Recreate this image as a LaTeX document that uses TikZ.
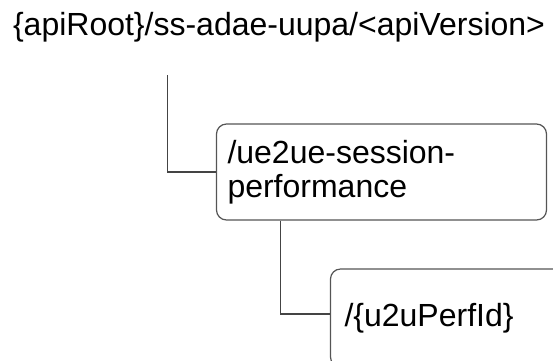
\documentclass[tikz,border=0pt]{standalone}
\usepackage{fontspec}
\setmainfont{Liberation Sans}
\definecolor{linec}{HTML}{444444}
\definecolor{boxc}{HTML}{555555}
\begin{document}
\begin{tikzpicture}[x=1pt,y=-1pt,
  res/.style={draw=boxc, line width=1.2pt, rounded corners=10pt, align=left,
    font=\fontsize{32}{34}\selectfont, inner ysep=0pt, anchor=center},
  conn/.style={draw=linec, line width=1.2pt}]
\useasboundingbox (0,0) rectangle (553,360);
\clip (0,0) rectangle (553,360);
\node[font=\fontsize{32}{36}\selectfont, inner sep=0pt, anchor=base] (root) at (279,35) {\{apiRoot\}/ss-adae-uupa/<apiVersion>};
\coordinate (rootout) at (167.3,75);
\node[res, minimum width=330pt, minimum height=96pt, text width=308pt, inner xsep=11pt] (b1) at (381.5,172) {/ue2ue-session-\\performance};
\node[res, minimum width=330pt, minimum height=98pt, text width=302pt, inner xsep=14pt] (b2) at (495.5,318) {/\{u2uPerfId\}};
\draw[conn] (rootout) |- (b1.west);
\draw[conn] (b1.south west -| 280.7,0) |- ([yshift=4pt]b2.west);
\end{tikzpicture}
\end{document}
